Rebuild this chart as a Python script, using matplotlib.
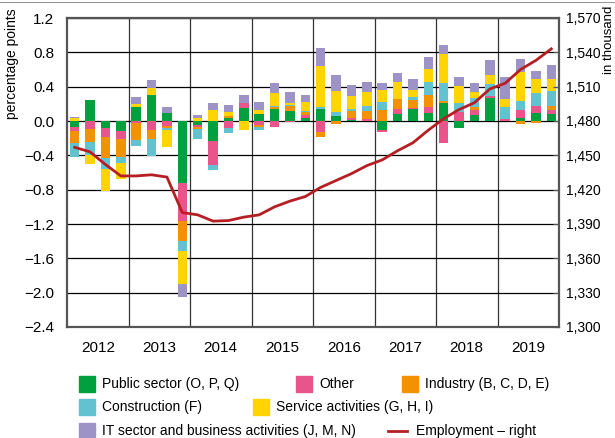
import numpy as np
import matplotlib
matplotlib.use("Agg")
import matplotlib.pyplot as plt
from matplotlib.patches import Rectangle
from matplotlib.lines import Line2D

plt.rcParams['font.family'] = ['Liberation Sans', 'DejaVu Sans']

# Données trimestrielles 2012T1 - 2019T4 (points de pourcentage)
years = ['2012', '2013', '2014', '2015', '2016', '2017', '2018', '2019']

public = [-0.07, 0.25, -0.08, -0.12, 0.16, 0.30, 0.09, -0.72,
          -0.05, -0.235, 0.04, 0.15, 0.085, 0.14, 0.12, 0.03,
          0.14, 0.055, 0.015, 0.0, -0.10, 0.08, 0.14, 0.095,
          0.21, -0.085, 0.07, 0.265, 0.0, 0.03, 0.095, 0.08]
other = [-0.05, -0.09, -0.11, -0.09, -0.02, -0.11, -0.06, -0.45,
         -0.02, -0.28, -0.085, 0.055, -0.045, -0.07, -0.015, 0.045,
         -0.13, 0.0, 0.015, 0.02, -0.025, 0.055, 0.015, 0.07,
         -0.26, 0.11, 0.06, 0.03, 0.025, 0.095, 0.08, 0.045]
industry = [-0.14, -0.15, -0.24, -0.21, -0.20, -0.10, -0.02, -0.23,
            -0.02, 0.0, 0.015, 0.0, -0.03, 0.02, 0.055, 0.03,
            -0.055, -0.03, 0.085, 0.095, 0.13, 0.125, 0.085, 0.14,
            0.025, 0.0, 0.03, 0.0, 0.0, -0.04, -0.02, 0.055]
construction = [-0.16, -0.16, -0.13, -0.07, -0.07, -0.20, -0.03, -0.12,
                -0.12, -0.06, -0.06, 0.0, -0.03, 0.015, 0.015, 0.015,
                0.025, 0.055, 0.03, 0.065, 0.095, 0.0, 0.04, 0.155,
                0.21, 0.10, 0.11, 0.14, 0.14, 0.11, 0.155, 0.165]
services = [0.03, -0.10, -0.25, -0.18, 0.04, 0.08, -0.19, -0.38,
            0.04, 0.125, 0.05, -0.10, 0.045, 0.15, 0.025, 0.10,
            0.47, 0.235, 0.15, 0.155, 0.14, 0.195, 0.085, 0.15,
            0.33, 0.195, 0.07, 0.10, 0.095, 0.335, 0.155, 0.15]
it_business = [0.02, 0.0, 0.0, 0.0, 0.08, 0.10, 0.07, -0.15,
               0.03, 0.085, 0.085, 0.095, 0.095, 0.12, 0.125, 0.085,
               0.22, 0.195, 0.12, 0.125, 0.08, 0.11, 0.12, 0.14,
               0.11, 0.11, 0.10, 0.18, 0.25, 0.15, 0.10, 0.155]

# Emploi (en milliers, axe de droite)
employment = [1457, 1453, 1442, 1432, 1432, 1433, 1431, 1400,
              1398, 1392.5, 1393, 1396, 1398, 1405, 1410, 1414,
              1422, 1428, 1434, 1441, 1446, 1454, 1461, 1472,
              1482, 1490, 1496, 1508, 1513, 1525, 1533, 1543]

series = [
    ('Public sector (O, P, Q)', public, '#00A03E'),
    ('Other', other, '#E9548A'),
    ('Industry (B, C, D, E)', industry, '#F39200'),
    ('Construction (F)', construction, '#62C2CF'),
    ('Service activities (G, H, I)', services, '#FFD400'),
    ('IT sector and business activities (J, M, N)', it_business, '#9E93C6'),
]
line_color = '#B51F24'

W, H = 615, 438
fig = plt.figure(figsize=(W / 100, H / 100), dpi=100)
ax = fig.add_axes([67 / W, 1 - 327 / H, (559 - 67) / W, 309 / H])

n = len(public)
x = np.arange(n) + 0.5
pos_base = np.zeros(n)
neg_base = np.zeros(n)
for label, vals, color in series:
    v = np.array(vals)
    p = np.where(v > 0, v, 0)
    m = np.where(v < 0, v, 0)
    ax.bar(x, p, 0.62, bottom=pos_base, color=color, zorder=3, linewidth=0)
    ax.bar(x, m, 0.62, bottom=neg_base, color=color, zorder=3, linewidth=0)
    pos_base += p
    neg_base += m

yt = np.arange(-2.4, 1.21, 0.4)
ax.set_xlim(0, n)
ax.set_ylim(-2.4, 1.2)
ax.set_yticks(yt)
ax.set_yticklabels([f'{t:.1f}'.replace('-', '\u2212') if abs(t) > 1e-9 else '0.0'
                    for t in yt])
ax.set_xticks(np.arange(2, n, 4))
ax.set_xticklabels(years)
ax.tick_params(axis='x', length=0, pad=10, labelsize=11)
ax.tick_params(axis='y', length=0, pad=9, labelsize=11)
ax.grid(axis='y', color='black', linewidth=0.9, zorder=1)
for xv in range(4, n, 4):
    ax.axvline(xv, color='#333333', linewidth=0.9, zorder=1)
for s in ax.spines.values():
    s.set_color('#555555')
    s.set_linewidth(1.6)

ax2 = ax.twinx()
ax2.set_ylim(1300, 1570)
ax2.set_yticks(np.arange(1300, 1571, 30))
ax2.set_yticklabels([f'{t:,}' for t in range(1300, 1571, 30)])
ax2.tick_params(axis='y', direction='in', length=4, pad=5, labelsize=10,
                color='#555555')
ax2.plot(x, employment, color=line_color, linewidth=2.0, zorder=5)
for s in ax2.spines.values():
    s.set_visible(False)

fig.text(12 / W, 1 - 8 / H, 'percentage points', rotation=90, ha='center',
         va='top', fontsize=10)
fig.text(609 / W, 1 - 6 / H, 'in thousand', rotation=90, ha='center',
         va='top', fontsize=9.5)

# thin frame line at the top of the figure
fig.add_artist(Line2D([0, 1], [1 - 2 / H, 1 - 2 / H], transform=fig.transFigure,
                      color='#999999', linewidth=0.8))

# Légende (positions en pixels)
legend_items = [
    (0, 79, 384), (1, 296, 384), (2, 402, 384),
    (3, 79, 407), (4, 253, 407),
    (5, 79, 431),
]
for idx, px, py in legend_items:
    label, _, color = series[idx]
    fig.add_artist(Rectangle((px / W, 1 - (py + 8) / H), 16 / W, 16 / H,
                             transform=fig.transFigure, color=color))
    fig.text((px + 23) / W, 1 - py / H, label, ha='left', va='center', fontsize=10)
fig.add_artist(Line2D([388 / W, 407 / W], [1 - 431 / H, 1 - 431 / H],
                      transform=fig.transFigure, color=line_color, linewidth=2.0))
fig.text(416 / W, 1 - 431 / H, 'Employment \u2013 right', ha='left', va='center',
         fontsize=10)

fig.savefig('out.png', dpi=100)
